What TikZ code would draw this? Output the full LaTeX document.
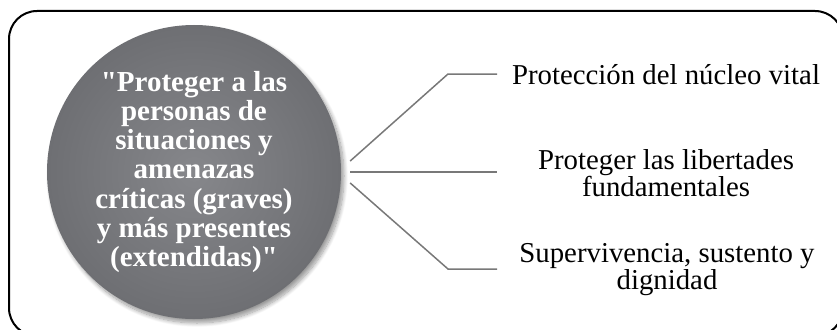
\documentclass[tikz,border=0pt]{standalone}
\usepackage{fontspec}
\setmainfont{Liberation Serif}[Ligatures=TeXOff]
\usetikzlibrary{shadows.blur,calc}
\definecolor{circin}{RGB}{134,135,139}
\definecolor{circout}{RGB}{110,111,115}
\definecolor{linkgray}{RGB}{120,120,120}
\begin{document}
\begin{tikzpicture}[x=1pt,y=1pt,
  frame/.style={draw=black,line width=2pt,rounded corners=28pt},
  hub/.style={circle,minimum size=294pt,inner sep=0pt,
    shading=radial,inner color=circin,outer color=circout,
    blur shadow={shadow xshift=3pt,shadow yshift=-4pt,shadow blur radius=4pt,shadow blur steps=10,shadow opacity=40},
    text=white,font=\fontsize{29}{29.3}\selectfont\bfseries,align=center},
  leaf/.style={font=\fontsize{28.8}{27}\selectfont,align=center,inner sep=0pt},
  link/.style={draw=linkgray,line width=1.5pt}]
\clip (0,0) rectangle (837,-329);
\draw[frame] (9,-11) rectangle (843,-336);
\node[hub] (c) at (194,-172) {"Proteger a las\\personas de\\situaciones y\\amenazas\\críticas (graves)\\y más presentes\\(extendidas)"};
\node[leaf] (t1) at (666,-75) {Protección del núcleo vital};
\node[leaf] (t2) at (666,-173) {Proteger las libertades\\fundamentales};
\node[leaf] (t3) at (667,-270) {Supervivencia, sustento y\\dignidad};
\coordinate (e1) at (497,-74);
\coordinate (e2) at (497,-172);
\coordinate (e3) at (497,-269);
\draw[link] ([shift={(9,11)}]c.east) -- (448,-74) -- (e1);
\draw[link] ([shift={(9,0)}]c.east) -- (e2);
\draw[link] ([shift={(9,-11)}]c.east) -- (448,-269) -- (e3);
\end{tikzpicture}
\end{document}
